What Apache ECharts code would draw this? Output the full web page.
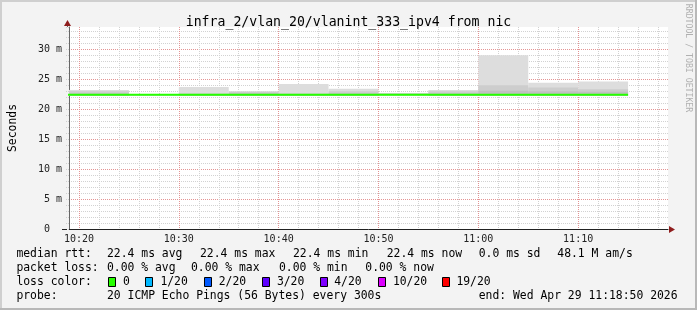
<!DOCTYPE html>
<html><head><meta charset="utf-8">
<script src="https://cdn.jsdelivr.net/npm/echarts@6/dist/echarts.min.js"></script>
<style>html,body{margin:0;padding:0;background:#f3f3f3;}#c{width:697px;height:310px;}</style>
</head><body><div id="c"></div>
<script>
// ---------- data ----------
const titleText = 'infra_2/vlan_20/vlanint_333_ipv4 from nic';
const yAxisName = 'Seconds';
const xStart = '10:19';
const xEnd = '11:19';
const yTop = 33.7;
// 5-minute bins (end times)
const binEnds    = ['10:20','10:25','10:30','10:35','10:40','10:45','10:50','10:55','11:00','11:05','11:10','11:15'];
const medianRtt  = [22.4, 22.4, 22.4, 22.4, 22.4, 22.4, 22.4, 22.4, 22.4, 22.4, 22.4, 22.4];
const smokeMin   = [22.25,22.25,22.3, 22.25,22.25,22.25,22.25,22.3, 22.25,22.25,22.25,22.25];
const smokeInner = [22.6, 22.6, 22.4, 22.5, 22.6, 22.5, 22.6, 22.5, 22.6, 23.05,23.0, 22.9];
const smokeMid   = [23.0, 23.0, 22.45,22.6, 22.9, 22.6, 23.0, 22.6, 23.0, 24.0, 23.6, 23.3];
const smokeMax   = [23.2, 23.2, 22.5, 23.7, 23.0, 24.2, 23.4, 22.7, 23.2, 29.0, 24.4, 24.6];
// legend texts
const rttLabel   = 'median rtt:';
const rttStats   = ['22.4 ms avg','22.4 ms max','22.4 ms min','22.4 ms now','0.0 ms sd','48.1 M am/s'];
const lossLabel  = 'packet loss:';
const lossStats  = ['0.00 % avg','0.00 % max','0.00 % min','0.00 % now'];
const colorLabel = 'loss color:';
const lossLabels = ['0','1/20','2/20','3/20','4/20','10/20','19/20'];
const lossColors = ['#26ff00','#00b8ff','#0059ff','#5e00ff','#7e00ff','#dd00ff','#ff0000'];
const probeLabel = 'probe:';
const probeText  = '20 ICMP Echo Pings (56 Bytes) every 300s';
const endText    = 'end: Wed Apr 29 11:18:50 2026';
const watermark  = 'RRDTOOL / TOBI OETIKER';

// ---------- helpers ----------
const toMin = s => { const p = s.split(':').map(Number); return p[0]*60 + p[1]; };
const fmtMin = v => { const h = Math.floor(v/60), m = v % 60; return h + ':' + (m < 10 ? '0' : '') + m; };
const MONO = 'DejaVu Sans Mono';
const smokeColors = ['#dddddd', '#cdcdcd', '#c0c0c0'];

const smokeData = [];
const layers = [[smokeMin, smokeMax], [smokeMin, smokeMid], [smokeMin, smokeInner]];
layers.forEach((ly, li) => {
  binEnds.forEach((e, i) => {
    const end = toMin(e);
    smokeData.push([end - 5, end, ly[0][i], ly[1][i], li]);
  });
});
const medianData = [];
binEnds.forEach((e, i) => {
  const end = toMin(e);
  medianData.push([end - 5, medianRtt[i]]);
  medianData.push([end, medianRtt[i]]);
});

// ---------- graphics (legend / frame) ----------
const G = [];
const txt = (x, y, s, extra) => G.push(Object.assign({
  type: 'text', x: x, y: y, silent: true,
  style: Object.assign({ text: s, font: '11.4px "' + MONO + '"', fill: '#000', verticalAlign: 'middle' }, extra || {})
}));
// frame
G.push({ type: 'rect', shape: { x: 0, y: 0, width: 697, height: 2 }, style: { fill: '#cfcfcf' }, silent: true });
G.push({ type: 'rect', shape: { x: 0, y: 0, width: 2, height: 310 }, style: { fill: '#cfcfcf' }, silent: true });
G.push({ type: 'rect', shape: { x: 695, y: 0, width: 2, height: 310 }, style: { fill: '#b8b8b8' }, silent: true });
G.push({ type: 'rect', shape: { x: 0, y: 308, width: 697, height: 2 }, style: { fill: '#b8b8b8' }, silent: true });
// axis extensions & arrows
G.push({ type: 'line', shape: { x1: 62, y1: 229.5, x2: 67, y2: 229.5 }, style: { stroke: '#222', lineWidth: 1 }, silent: true, z: 10 });
G.push({ type: 'line', shape: { x1: 67.5, y1: 23, x2: 67.5, y2: 27 }, style: { stroke: '#666', lineWidth: 1 }, silent: true, z: 10 });
G.push({ type: 'polygon', shape: { points: [[67.5, 20], [64, 26], [71, 26]] }, style: { fill: '#8f1d1d' }, silent: true, z: 10 });
G.push({ type: 'polygon', shape: { points: [[675, 229.5], [669, 226], [669, 233]] }, style: { fill: '#8f1d1d' }, silent: true, z: 10 });
// watermark
G.push({ type: 'text', x: 688, y: 58, rotation: -Math.PI / 2, silent: true,
  style: { text: watermark, font: '8.2px "' + MONO + '"', fill: '#b0b0b0', align: 'center', verticalAlign: 'middle' } });
// legend lines
const rows = [254, 268, 282, 296];
txt(16.4, rows[0], rttLabel);
[107, 200, 293, 386.7, 478.7, 557.3].forEach((x, i) => txt(x, rows[0], rttStats[i]));
txt(16.4, rows[1], lossLabel);
[107, 191, 279, 365.3].forEach((x, i) => txt(x, rows[1], lossStats[i]));
txt(16.4, rows[2], colorLabel);
const boxX = [108, 145.3, 204, 262.2, 320, 378.2, 442.2];
const labX = [123, 160.4, 218.7, 276.9, 334.2, 392.9, 456.4];
lossLabels.forEach((l, i) => {
  G.push({ type: 'rect', shape: { x: Math.round(boxX[i]) + 0.5, y: rows[2] - 4.5, width: 7, height: 9 },
    style: { fill: lossColors[i], stroke: '#000', lineWidth: 1 }, silent: true });
  txt(labX[i], rows[2], l);
});
txt(16.4, rows[3], probeLabel);
txt(107, rows[3], probeText);
txt(478.7, rows[3], endText);

// ---------- chart ----------
const chart = echarts.init(document.getElementById('c'), null, { renderer: 'canvas' });
const minor = '#d2d2d2', major = '#e49494';
const xMin = toMin(xStart), xMax = toMin(xEnd);
chart.setOption({
  backgroundColor: '#f3f3f3',
  animation: false,
  title: {
    text: titleText, left: 'center', top: 11,
    textStyle: { fontFamily: MONO, fontSize: 13.2, fontWeight: 'normal', color: '#000' }
  },
  grid: { left: 67, top: 27, right: 29, bottom: 81, show: true, backgroundColor: '#ffffff', borderWidth: 0, containLabel: false },
  xAxis: [
    { // minor grid (2 min)
      type: 'value', min: xMin, max: xMax, splitNumber: 30, position: 'bottom',
      axisLine: { show: true, lineStyle: { color: '#222', width: 1 } },
      axisTick: { show: false },
      axisLabel: { show: false },
      splitLine: { show: true, showMaxLine: false, lineStyle: { color: minor, type: [1, 1], width: 1 } }
    },
    { // major grid + labels (10 min)
      type: 'value', min: xMin, max: xMax, splitNumber: 6, position: 'bottom', offset: 0,
      axisLine: { show: false }, axisTick: { show: false },
      axisLabel: { show: true, margin: 5, fontFamily: MONO, fontSize: 10, color: '#222',
        showMinLabel: false, showMaxLabel: false,
        formatter: v => (v % 10 === 0 ? fmtMin(v) : '') },
      splitLine: { show: true, showMinLine: false, showMaxLine: false, lineStyle: { color: major, type: [1, 1], width: 1 } }
    }
  ],
  yAxis: [
    { // minor grid (1 ms)
      type: 'value', min: 0, max: yTop, interval: 1, position: 'left',
      name: yAxisName, nameLocation: 'middle', nameRotate: 90, nameGap: 50,
      nameTextStyle: { fontFamily: MONO, fontSize: 11.4, color: '#000' },
      axisLine: { show: true, lineStyle: { color: '#666', width: 1 } },
      axisTick: { show: true, length: 4, lineStyle: { color: '#cfcfcf', type: [1, 1] } },
      axisLabel: { show: false },
      splitLine: { show: true, showMinLine: false, showMaxLine: false, lineStyle: { color: minor, type: [1, 1], width: 1 } }
    },
    { // major grid + labels (5 ms)
      type: 'value', min: 0, max: yTop, interval: 5, position: 'left', offset: 0,
      axisLine: { show: false }, axisTick: { show: false },
      axisLabel: { show: true, margin: 7, fontFamily: MONO, fontSize: 10, color: '#222', showMaxLabel: false,
        formatter: v => (v % 5 === 0 ? (v === 0 ? '0  ' : v + ' m') : '') },
      splitLine: { show: true, showMinLine: false, showMaxLine: false, lineStyle: { color: major, type: [1, 1], width: 1 } }
    }
  ],
  series: [
    {
      type: 'custom', name: 'smoke', silent: true, z: 2, xAxisIndex: 0, yAxisIndex: 0,
      encode: { x: [0, 1], y: [2, 3] },
      data: smokeData,
      renderItem: (params, api) => {
        const p1 = api.coord([api.value(0), api.value(3)]);
        const p2 = api.coord([api.value(1), api.value(2)]);
        const rect = echarts.graphic.clipRectByRect(
          { x: p1[0], y: p1[1], width: p2[0] - p1[0], height: p2[1] - p1[1] },
          { x: params.coordSys.x, y: params.coordSys.y, width: params.coordSys.width, height: params.coordSys.height });
        if (!rect) return;
        return { type: 'rect', shape: rect, style: { fill: smokeColors[api.value(4)] } };
      }
    },
    {
      type: 'line', name: 'median', data: medianData, showSymbol: false, symbol: 'none', z: 5,
      xAxisIndex: 0, yAxisIndex: 0,
      lineStyle: { color: lossColors[0], width: 2 }, clip: true
    }
  ],
  graphic: G
});
</script></body></html>
